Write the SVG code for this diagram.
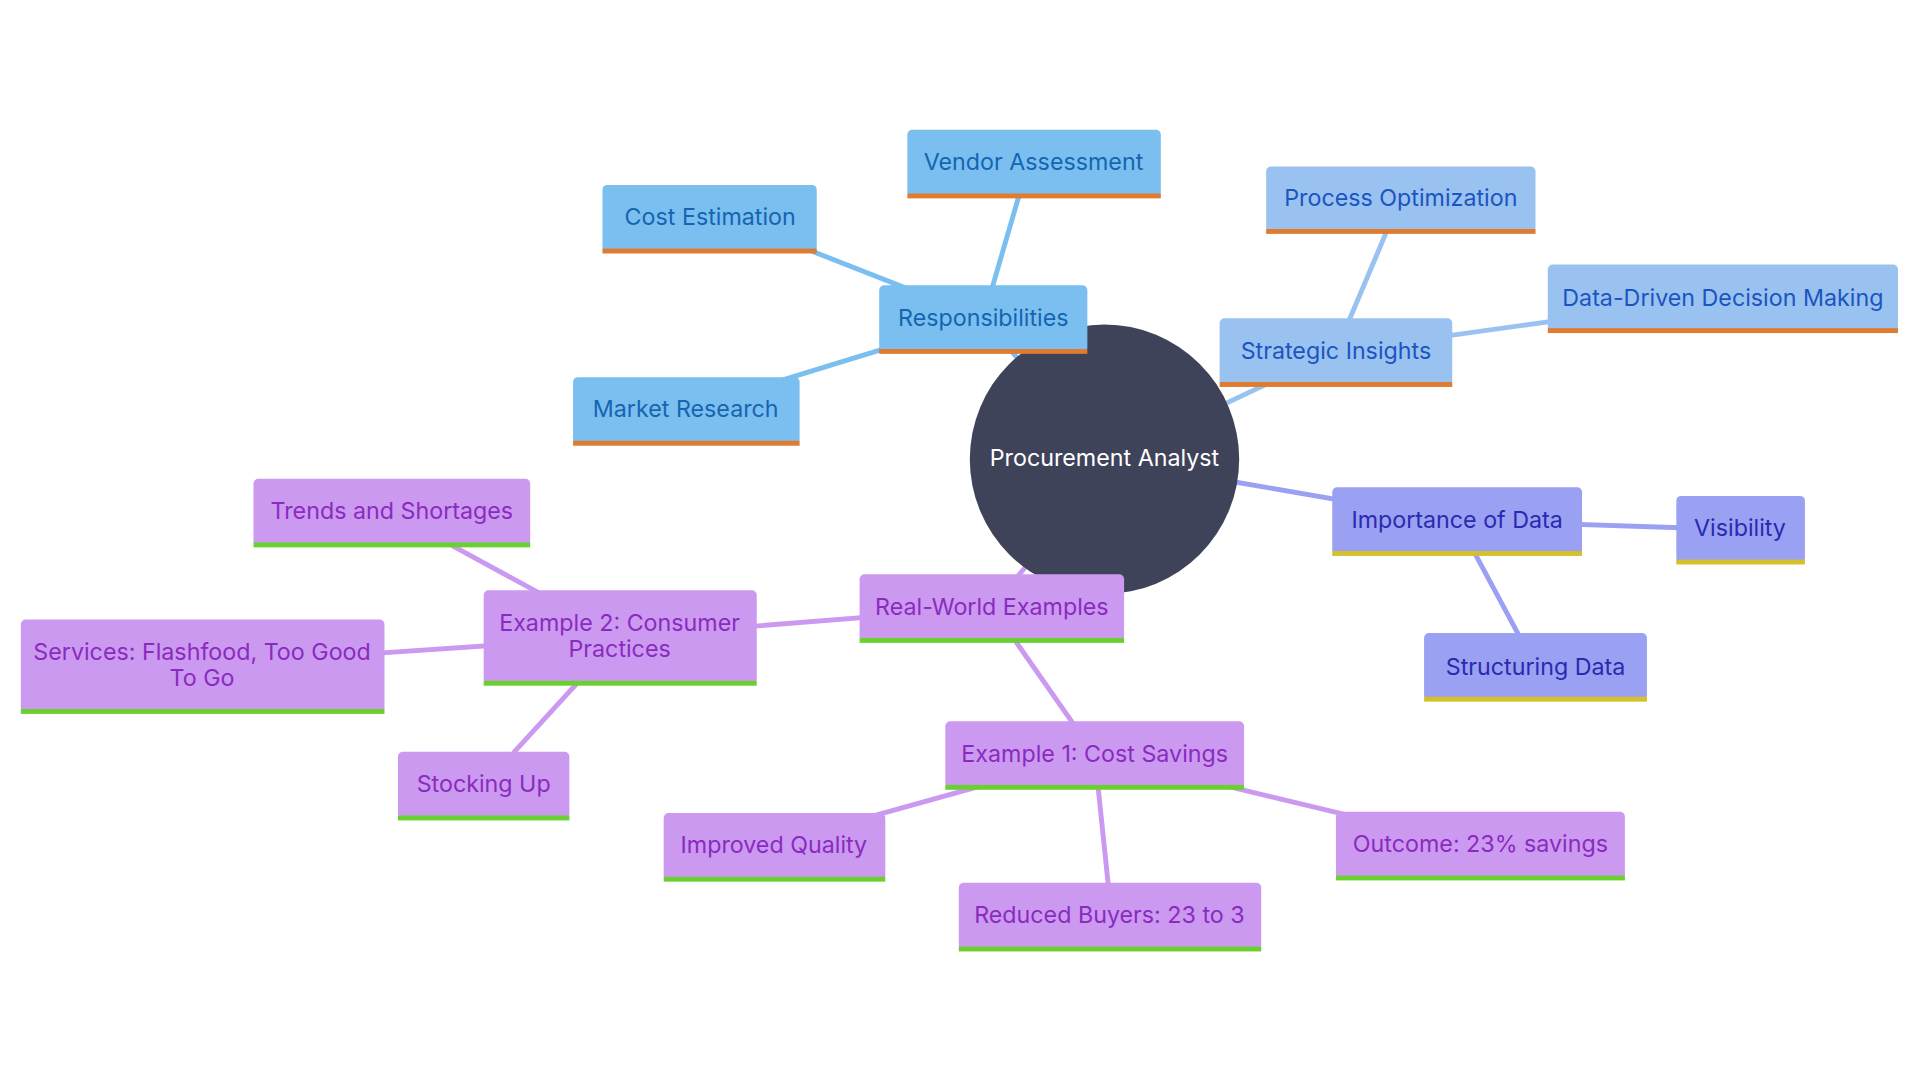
<svg xmlns="http://www.w3.org/2000/svg" width="1920" height="1080" viewBox="0 0 1920 1080">
<style>
text{font-family:Inter,"Noto Sans",sans-serif;font-size:19px;text-anchor:middle;dominant-baseline:central}
.b rect.f{fill:#7bbff0}.b text{fill:#1565b0}
.s rect.f{fill:#9ac2f0}.s text{fill:#1a55c0}
.i rect.f{fill:#9aa0f2}.i text{fill:#2a2ab0}
.p rect.f{fill:#cc99f0}.p text{fill:#8a2bc0}
.uo{fill:#e07b30}.uy{fill:#d4c02a}.ug{fill:#6ad030}
.c line{stroke-width:4;stroke-linecap:round}
</style>
<rect width="1920" height="1080" fill="#fff"/>
<g transform="scale(1.2245)">
<g id="connectors" class="c">
<line x1="803" y1="260" x2="835" y2="150" stroke="#7bbff0"/>
<line x1="803" y1="260" x2="650" y2="200" stroke="#7bbff0"/>
<line x1="803" y1="260" x2="640" y2="310" stroke="#7bbff0"/>
<line x1="902" y1="375" x2="803" y2="260" stroke="#7bbff0"/>
<line x1="1000" y1="330" x2="1091" y2="287" stroke="#9ac2f0"/>
<line x1="1091" y1="287" x2="1132" y2="190" stroke="#9ac2f0"/>
<line x1="1091" y1="287" x2="1270" y2="262" stroke="#9ac2f0"/>
<line x1="1005" y1="393" x2="1190" y2="425" stroke="#9aa0f2"/>
<line x1="1190" y1="425" x2="1372" y2="431" stroke="#9aa0f2"/>
<line x1="1190" y1="425" x2="1240" y2="518" stroke="#9aa0f2"/>
<line x1="840" y1="460" x2="810" y2="496" stroke="#cc99f0"/>
<line x1="810" y1="496" x2="506" y2="520" stroke="#cc99f0"/>
<line x1="810" y1="496" x2="894" y2="616" stroke="#cc99f0"/>
<line x1="506" y1="520" x2="370" y2="446" stroke="#cc99f0"/>
<line x1="506" y1="520" x2="300" y2="534" stroke="#cc99f0"/>
<line x1="506" y1="520" x2="420" y2="614" stroke="#cc99f0"/>
<line x1="894" y1="616" x2="700" y2="670" stroke="#cc99f0"/>
<line x1="894" y1="616" x2="905" y2="722" stroke="#cc99f0"/>
<line x1="894" y1="616" x2="1110" y2="668" stroke="#cc99f0"/>
</g>
<g id="center"><circle cx="902" cy="375" r="110" fill="#3f4359"/><text x="902" y="374" fill="#fff">Procurement Analyst</text></g>
<g id="responsibilities" class="b"><rect class="f" x="718" y="233" width="170" height="55" rx="4"/><rect class="uo" x="718" y="285" width="170" height="4"/><text x="803" y="259">Responsibilities</text></g>
<g id="vendor" class="b"><rect class="f" x="741" y="106" width="207" height="55" rx="4"/><rect class="uo" x="741" y="158" width="207" height="4"/><text x="844" y="132">Vendor Assessment</text></g>
<g id="cost" class="b"><rect class="f" x="492" y="151" width="175" height="55" rx="4"/><rect class="uo" x="492" y="203" width="175" height="4"/><text x="580" y="177">Cost Estimation</text></g>
<g id="market" class="b"><rect class="f" x="468" y="308" width="185" height="55" rx="4"/><rect class="uo" x="468" y="360" width="185" height="4"/><text x="560" y="334">Market Research</text></g>
<g id="strategic" class="s"><rect class="f" x="996" y="260" width="190" height="55" rx="4"/><rect class="uo" x="996" y="312" width="190" height="4"/><text x="1091" y="286">Strategic Insights</text></g>
<g id="process" class="s"><rect class="f" x="1034" y="136" width="220" height="54" rx="4"/><rect class="uo" x="1034" y="187" width="220" height="4"/><text x="1144" y="161">Process Optimization</text></g>
<g id="ddm" class="s"><rect class="f" x="1264" y="216" width="286" height="55" rx="4"/><rect class="uo" x="1264" y="268" width="286" height="4"/><text x="1407" y="243">Data-Driven Decision Making</text></g>
<g id="importance" class="i"><rect class="f" x="1088" y="398" width="204" height="55" rx="4"/><rect class="uy" x="1088" y="450" width="204" height="4"/><text x="1190" y="424">Importance of Data</text></g>
<g id="visibility" class="i"><rect class="f" x="1369" y="405" width="105" height="55" rx="4"/><rect class="uy" x="1369" y="457" width="105" height="4"/><text x="1421" y="431">Visibility</text></g>
<g id="structuring" class="i"><rect class="f" x="1163" y="517" width="182" height="55" rx="4"/><rect class="uy" x="1163" y="569" width="182" height="4"/><text x="1254" y="544">Structuring Data</text></g>
<g id="realworld" class="p"><rect class="f" x="702" y="469" width="216" height="55" rx="4"/><rect class="ug" x="702" y="521" width="216" height="4"/><text x="810" y="495">Real-World Examples</text></g>
<g id="example2" class="p"><rect class="f" x="395" y="482" width="223" height="77" rx="4"/><rect class="ug" x="395" y="556" width="223" height="4"/><text x="506" y="508">Example 2: Consumer</text><text x="506" y="530">Practices</text></g>
<g id="trends" class="p"><rect class="f" x="207" y="391" width="226" height="55" rx="4"/><rect class="ug" x="207" y="443" width="226" height="4"/><text x="320" y="417">Trends and Shortages</text></g>
<g id="services" class="p"><rect class="f" x="17" y="506" width="297" height="76" rx="4"/><rect class="ug" x="17" y="579" width="297" height="4"/><text x="165" y="532">Services: Flashfood, Too Good</text><text x="165" y="553">To Go</text></g>
<g id="stocking" class="p"><rect class="f" x="325" y="614" width="140" height="55" rx="4"/><rect class="ug" x="325" y="666" width="140" height="4"/><text x="395" y="640">Stocking Up</text></g>
<g id="example1" class="p"><rect class="f" x="772" y="589" width="244" height="55" rx="4"/><rect class="ug" x="772" y="641" width="244" height="4"/><text x="894" y="615">Example 1: Cost Savings</text></g>
<g id="quality" class="p"><rect class="f" x="542" y="664" width="181" height="55" rx="4"/><rect class="ug" x="542" y="716" width="181" height="4"/><text x="632" y="690">Improved Quality</text></g>
<g id="buyers" class="p"><rect class="f" x="783" y="721" width="247" height="55" rx="4"/><rect class="ug" x="783" y="773" width="247" height="4"/><text x="906" y="747">Reduced Buyers: 23 to 3</text></g>
<g id="outcome" class="p"><rect class="f" x="1091" y="663" width="236" height="55" rx="4"/><rect class="ug" x="1091" y="715" width="236" height="4"/><text x="1209" y="689">Outcome: 23% savings</text></g>
</g>
</svg>
